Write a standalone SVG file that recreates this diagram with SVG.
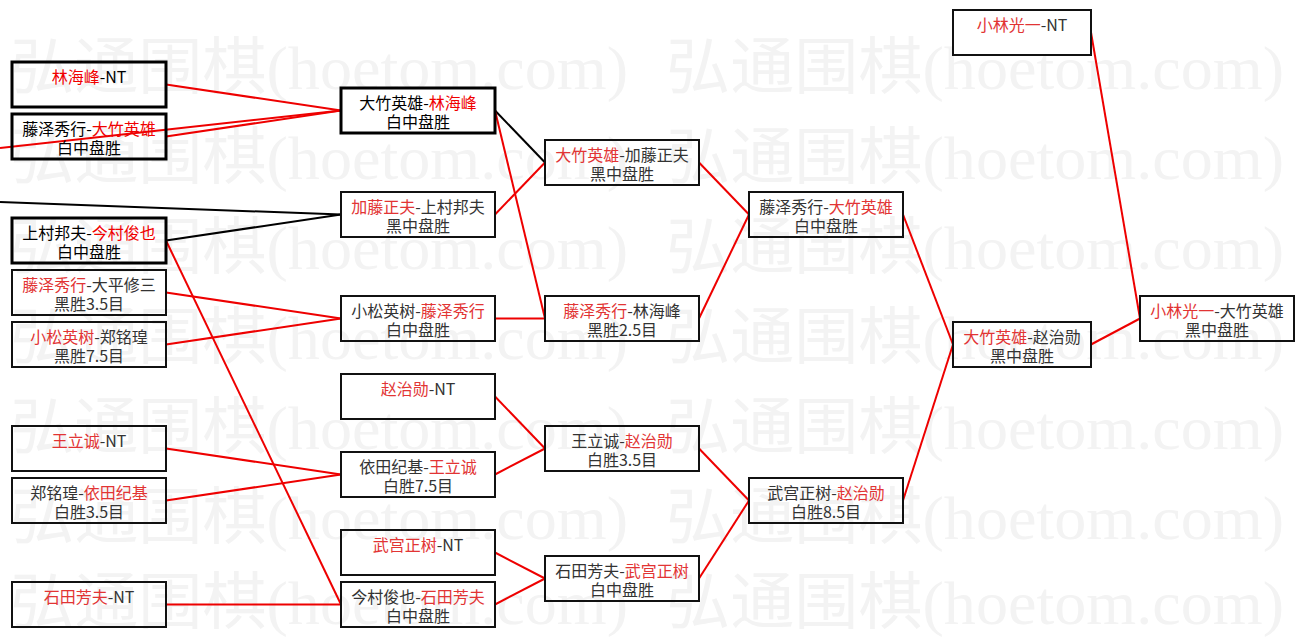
<svg xmlns="http://www.w3.org/2000/svg" width="1305" height="637" viewBox="0 0 1305 637">
<style>
.wm{font-family:"Liberation Serif","Noto Sans CJK SC",serif;font-size:62px;fill:#f3f3f3}
.n rect{fill:none;stroke:#111;stroke-width:2}
.n.k rect{stroke:#000;stroke-width:3}
.n text{font-family:"Noto Sans CJK SC",sans-serif;font-size:16px;text-anchor:middle;fill:#333}
.n.k text{fill:#000}
.n .r{fill:#e23434}
.n.k .r{fill:#f00000}
.cr{stroke:#ee0000;stroke-width:2;fill:none}
.ck{stroke:#000;stroke-width:2;fill:none}
</style>
<rect width="1305" height="637" fill="#fff"/>
<g id="watermark">
<text class="wm" x="10" y="89" textLength="618" lengthAdjust="spacingAndGlyphs">弘通围棋(hoetom.com)</text>
<text class="wm" x="666" y="89" textLength="618" lengthAdjust="spacingAndGlyphs">弘通围棋(hoetom.com)</text>
<text class="wm" x="10" y="179" textLength="618" lengthAdjust="spacingAndGlyphs">弘通围棋(hoetom.com)</text>
<text class="wm" x="666" y="179" textLength="618" lengthAdjust="spacingAndGlyphs">弘通围棋(hoetom.com)</text>
<text class="wm" x="10" y="269" textLength="618" lengthAdjust="spacingAndGlyphs">弘通围棋(hoetom.com)</text>
<text class="wm" x="666" y="269" textLength="618" lengthAdjust="spacingAndGlyphs">弘通围棋(hoetom.com)</text>
<text class="wm" x="10" y="359" textLength="618" lengthAdjust="spacingAndGlyphs">弘通围棋(hoetom.com)</text>
<text class="wm" x="666" y="359" textLength="618" lengthAdjust="spacingAndGlyphs">弘通围棋(hoetom.com)</text>
<text class="wm" x="10" y="449" textLength="618" lengthAdjust="spacingAndGlyphs">弘通围棋(hoetom.com)</text>
<text class="wm" x="666" y="449" textLength="618" lengthAdjust="spacingAndGlyphs">弘通围棋(hoetom.com)</text>
<text class="wm" x="10" y="539" textLength="618" lengthAdjust="spacingAndGlyphs">弘通围棋(hoetom.com)</text>
<text class="wm" x="666" y="539" textLength="618" lengthAdjust="spacingAndGlyphs">弘通围棋(hoetom.com)</text>
<text class="wm" x="10" y="624" textLength="618" lengthAdjust="spacingAndGlyphs">弘通围棋(hoetom.com)</text>
<text class="wm" x="666" y="624" textLength="618" lengthAdjust="spacingAndGlyphs">弘通围棋(hoetom.com)</text>
</g>
<g id="connectors">
<line class="cr" x1="166" y1="84.5" x2="341" y2="110.5"/>
<line class="cr" x1="166" y1="136.5" x2="341" y2="110.5"/>
<line class="cr" x1="0" y1="148" x2="341" y2="110.5"/>
<line class="ck" x1="0" y1="202" x2="341" y2="214.5"/>
<line class="ck" x1="166" y1="240.5" x2="341" y2="214.5"/>
<line class="ck" x1="495" y1="110.5" x2="545" y2="162.5"/>
<line class="cr" x1="495" y1="214.5" x2="545" y2="162.5"/>
<line class="cr" x1="495" y1="110.5" x2="545" y2="318.5"/>
<line class="cr" x1="495" y1="318.5" x2="545" y2="318.5"/>
<line class="cr" x1="166" y1="292.5" x2="341" y2="318.5"/>
<line class="cr" x1="166" y1="344.5" x2="341" y2="318.5"/>
<line class="cr" x1="166" y1="240.5" x2="341" y2="604.5"/>
<line class="cr" x1="166" y1="448.5" x2="341" y2="474.5"/>
<line class="cr" x1="166" y1="500.5" x2="341" y2="474.5"/>
<line class="cr" x1="166" y1="604.5" x2="341" y2="604.5"/>
<line class="cr" x1="495" y1="396.5" x2="545" y2="448.5"/>
<line class="cr" x1="495" y1="474.5" x2="545" y2="448.5"/>
<line class="cr" x1="495" y1="552.5" x2="545" y2="578.5"/>
<line class="cr" x1="495" y1="604.5" x2="545" y2="578.5"/>
<line class="cr" x1="699" y1="162.5" x2="749" y2="214.5"/>
<line class="cr" x1="699" y1="318.5" x2="749" y2="214.5"/>
<line class="cr" x1="699" y1="448.5" x2="749" y2="500.5"/>
<line class="cr" x1="699" y1="578.5" x2="749" y2="500.5"/>
<line class="cr" x1="903" y1="214.5" x2="953" y2="344.5"/>
<line class="cr" x1="903" y1="500.5" x2="953" y2="344.5"/>
<line class="cr" x1="1091" y1="344.5" x2="1140" y2="318.5"/>
<line class="cr" x1="1091" y1="32.5" x2="1140" y2="318.5"/>
</g>
<g id="n-c1-1" class="n k"><rect x="12" y="62" width="154" height="45"/><text x="89" y="83"><tspan class="r">林海峰</tspan>-NT</text></g>
<g id="n-c1-2" class="n k"><rect x="12" y="114" width="154" height="45"/><text x="89" y="135">藤泽秀行-<tspan class="r">大竹英雄</tspan></text><text x="89" y="154">白中盘胜</text></g>
<g id="n-c1-3" class="n k"><rect x="12" y="218" width="154" height="45"/><text x="89" y="239">上村邦夫-<tspan class="r">今村俊也</tspan></text><text x="89" y="258">白中盘胜</text></g>
<g id="n-c1-4" class="n"><rect x="12" y="270" width="154" height="45"/><text x="89" y="291"><tspan class="r">藤泽秀行</tspan>-大平修三</text><text x="89" y="310">黑胜3.5目</text></g>
<g id="n-c1-5" class="n"><rect x="12" y="322" width="154" height="45"/><text x="89" y="343"><tspan class="r">小松英树</tspan>-郑铭瑝</text><text x="89" y="362">黑胜7.5目</text></g>
<g id="n-c1-6" class="n"><rect x="12" y="426" width="154" height="45"/><text x="89" y="447"><tspan class="r">王立诚</tspan>-NT</text></g>
<g id="n-c1-7" class="n"><rect x="12" y="478" width="154" height="45"/><text x="89" y="499">郑铭瑝-<tspan class="r">依田纪基</tspan></text><text x="89" y="518">白胜3.5目</text></g>
<g id="n-c1-8" class="n"><rect x="12" y="582" width="154" height="45"/><text x="89" y="603"><tspan class="r">石田芳夫</tspan>-NT</text></g>
<g id="n-c2-1" class="n k"><rect x="341" y="88" width="154" height="45"/><text x="418" y="109">大竹英雄-<tspan class="r">林海峰</tspan></text><text x="418" y="128">白中盘胜</text></g>
<g id="n-c2-2" class="n"><rect x="341" y="192" width="154" height="45"/><text x="418" y="213"><tspan class="r">加藤正夫</tspan>-上村邦夫</text><text x="418" y="232">黑中盘胜</text></g>
<g id="n-c2-3" class="n"><rect x="341" y="296" width="154" height="45"/><text x="418" y="317">小松英树-<tspan class="r">藤泽秀行</tspan></text><text x="418" y="336">白中盘胜</text></g>
<g id="n-c2-4" class="n"><rect x="341" y="374" width="154" height="45"/><text x="418" y="395"><tspan class="r">赵治勋</tspan>-NT</text></g>
<g id="n-c2-5" class="n"><rect x="341" y="452" width="154" height="45"/><text x="418" y="473">依田纪基-<tspan class="r">王立诚</tspan></text><text x="418" y="492">白胜7.5目</text></g>
<g id="n-c2-6" class="n"><rect x="341" y="530" width="154" height="45"/><text x="418" y="551"><tspan class="r">武宫正树</tspan>-NT</text></g>
<g id="n-c2-7" class="n"><rect x="341" y="582" width="154" height="45"/><text x="418" y="603">今村俊也-<tspan class="r">石田芳夫</tspan></text><text x="418" y="622">白中盘胜</text></g>
<g id="n-c3-1" class="n"><rect x="545" y="140" width="154" height="45"/><text x="622" y="161"><tspan class="r">大竹英雄</tspan>-加藤正夫</text><text x="622" y="180">黑中盘胜</text></g>
<g id="n-c3-2" class="n"><rect x="545" y="296" width="154" height="45"/><text x="622" y="317"><tspan class="r">藤泽秀行</tspan>-林海峰</text><text x="622" y="336">黑胜2.5目</text></g>
<g id="n-c3-3" class="n"><rect x="545" y="426" width="154" height="45"/><text x="622" y="447">王立诚-<tspan class="r">赵治勋</tspan></text><text x="622" y="466">白胜3.5目</text></g>
<g id="n-c3-4" class="n"><rect x="545" y="556" width="154" height="45"/><text x="622" y="577">石田芳夫-<tspan class="r">武宫正树</tspan></text><text x="622" y="596">白中盘胜</text></g>
<g id="n-c4-1" class="n"><rect x="749" y="192" width="154" height="45"/><text x="826" y="213">藤泽秀行-<tspan class="r">大竹英雄</tspan></text><text x="826" y="232">白中盘胜</text></g>
<g id="n-c4-2" class="n"><rect x="749" y="478" width="154" height="45"/><text x="826" y="499">武宫正树-<tspan class="r">赵治勋</tspan></text><text x="826" y="518">白胜8.5目</text></g>
<g id="n-c5-1" class="n"><rect x="953" y="10" width="138" height="45"/><text x="1022" y="31"><tspan class="r">小林光一</tspan>-NT</text></g>
<g id="n-c5-2" class="n"><rect x="953" y="322" width="138" height="45"/><text x="1022" y="343"><tspan class="r">大竹英雄</tspan>-赵治勋</text><text x="1022" y="362">黑中盘胜</text></g>
<g id="n-c6-1" class="n"><rect x="1140" y="296" width="154" height="45"/><text x="1217" y="317"><tspan class="r">小林光一</tspan>-大竹英雄</text><text x="1217" y="336">黑中盘胜</text></g>
</svg>
